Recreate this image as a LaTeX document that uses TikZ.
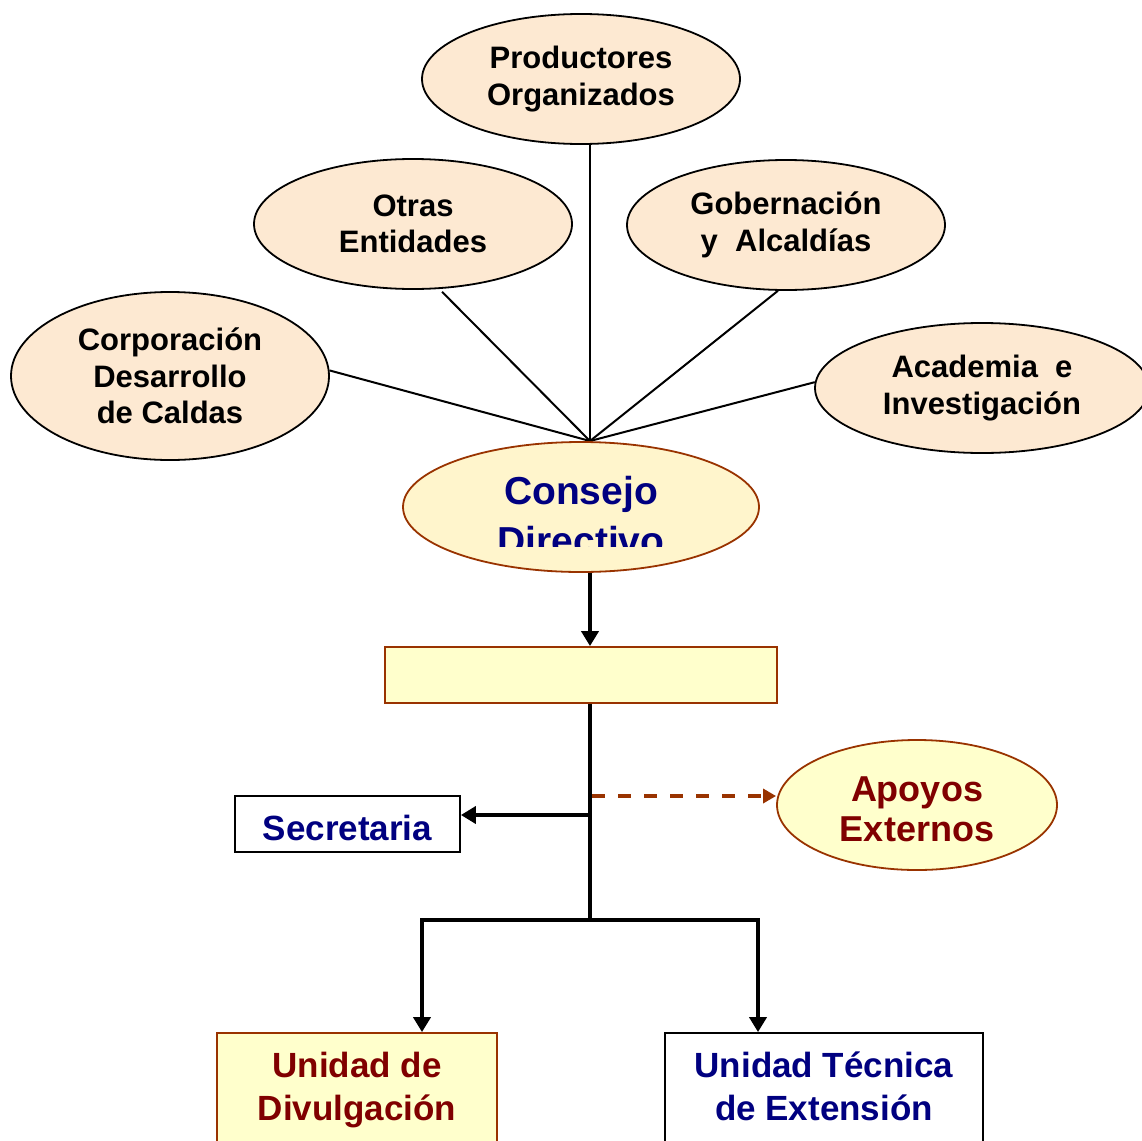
\documentclass[tikz,border=0pt]{standalone}
\usepackage{fontspec}
\setmainfont{Liberation Sans}
\usetikzlibrary{shapes.geometric,arrows.meta}
\definecolor{peach}{RGB}{253,233,210}
\definecolor{cream}{RGB}{255,245,204}
\definecolor{lightyel}{RGB}{255,255,204}
\definecolor{brownline}{RGB}{153,51,0}
\definecolor{navy}{RGB}{0,0,128}
\definecolor{darkred}{RGB}{128,0,0}
\tikzset{
  topell/.style={ellipse, draw=black, line width=1.8pt, fill=peach, inner sep=0pt,
    align=center, font=\fontsize{31}{36.5}\selectfont\bfseries},
  thinline/.style={line width=2pt, black},
  thickline/.style={line width=3.8pt, black},
  arr/.style={-{Triangle[length=15pt,width=17pt]}},
  darr/.style={-{Triangle[length=13pt,width=14pt]}},
}
\begin{document}
\begin{tikzpicture}[x=1pt,y=-1pt]
\clip (0,0) rectangle (1142,1140);
\fill[white] (0,0) rectangle (1142,1140);
% top ellipses
\node[topell, minimum width=318pt, minimum height=130pt] (prod) at (581,79) {Productores\\Organizados};
\node[topell, minimum width=318pt, minimum height=130pt] (otras) at (413,224) {Otras\\Entidades};
\node[topell, minimum width=318pt, minimum height=130pt] (gob) at (786,225) {Gobernación\\y\ \ Alcaldías};
\node[topell, minimum width=318pt, minimum height=168pt] (corp) at (170,376) {Corporación\\Desarrollo\\de Caldas};
\node[topell, minimum width=334pt, minimum height=130pt] (aca) at (982,388) {Academia\ \ e\\Investigación};
% hub lines
\coordinate (hub) at (590,441);
\draw[thinline] (corp.2) -- (hub);
\draw[thinline, shorten <=4pt] (otras.-68) -- (hub);
\draw[thinline] (hub |- prod.south) -- (hub);
\draw[thinline] (gob.-97) -- (hub);
\draw[thinline] (aca.178) -- (hub);
% consejo
\node[ellipse, draw=brownline, line width=1.8pt, fill=cream, inner sep=0pt,
  minimum width=356pt, minimum height=130pt] (consejo) at (581,507) {};
\begin{scope}
\clip (400,440) rectangle (762,546);
\node[align=center, text=navy, font=\fontsize{39}{50}\selectfont\bfseries] (consejotxt) at (581,516) {Consejo\\Directivo};
\end{scope}
% rect
\node[rectangle, draw=brownline, line width=1.8pt, fill=lightyel, minimum width=392pt,
  minimum height=56pt, inner sep=0pt] (rect) at (581,675) {};
\draw[thickline, arr] (hub |- consejo.south) -- (hub |- rect.north);
% secretaria
\node[rectangle, draw=black, line width=1.8pt, fill=white, minimum width=225pt,
  minimum height=56pt, inner sep=0pt] (sec) at (347.5,824) {};
\node[text=navy, font=\fontsize{35}{40}\selectfont\bfseries] (sectxt) at (347.5,828) {Secretaria};
% apoyos
\node[ellipse, draw=brownline, line width=1.8pt, fill=lightyel, inner sep=0pt,
  minimum width=280pt, minimum height=130pt] (apo) at (917,805) {};
\node[align=center, text=darkred, font=\fontsize{36}{40}\selectfont\bfseries] (apotxt) at (917,809) {Apoyos\\Externos};
% bottom boxes
\node[rectangle, draw=brownline, line width=1.8pt, fill=lightyel, minimum width=280pt,
  minimum height=110pt, inner sep=0pt] (ud) at (357,1088) {};
\node[align=center, text=darkred, font=\fontsize{35}{43}\selectfont\bfseries] (udtxt) at (357,1090) {Unidad de\\Divulgación};
\node[rectangle, draw=black, line width=1.8pt, fill=white, minimum width=318pt,
  minimum height=110pt, inner sep=0pt] (ut) at (824,1088) {};
\node[align=center, text=navy, font=\fontsize{35}{43}\selectfont\bfseries] (uttxt) at (824,1086) {Unidad Técnica\\de Extensión};
% spine
\coordinate (j) at (590,920);
\coordinate (jl) at (422,920);
\coordinate (jr) at (758,920);
\coordinate (secj) at (590,815);
\coordinate (apj) at (592,796);
\draw[thickline] (hub |- rect.south) -- (j);
\draw[thickline, arr] (secj) -- (secj -| sec.east);
\draw[line width=3.5pt, brownline, dash pattern=on 13pt off 13pt, darr] (apj) -- (apj -| apo.west);
\draw[thickline, line cap=rect] (jl) -- (jr);
\draw[thickline, arr] (jl) -- (jl |- ud.north);
\draw[thickline, arr] (jr) -- (jr |- ut.north);
\end{tikzpicture}
\end{document}
